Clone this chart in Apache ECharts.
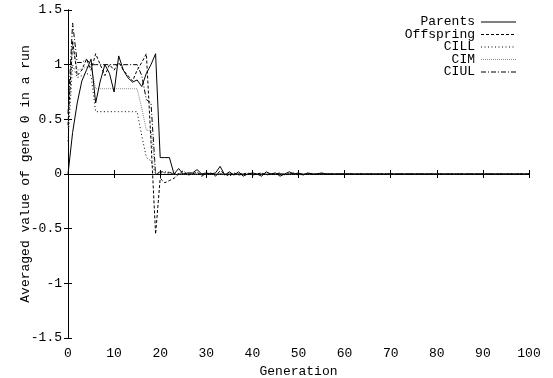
<!DOCTYPE html>
<html>
<head>
<meta charset="utf-8">
<script src="https://cdn.jsdelivr.net/npm/echarts@6/dist/echarts.min.js"></script>
<style>
  html, body { margin: 0; padding: 0; background: #fff; }
  #chart { width: 553px; height: 378px; }
</style>
</head>
<body>
<div id="chart"></div>
<script>
// Averaged value of gene 0 per generation, with confidence interval bounds
const generations = [];
for (let g = 0; g <= 100; g++) generations.push(g);

const parents = [
  0, 0.38, 0.65, 0.85, 0.95, 1.05, 0.65, 0.85, 1.0, 0.92,
  0.75, 1.08, 0.95, 0.88, 0.84, 0.86, 0.8, 0.92, 1.0, 1.1,
  0.15, 0.15, 0.15, 0.0, 0.05, 0.0, 0.01, 0.01, 0.04, 0.0,
  0.01, 0.0, 0.01, 0.07, -0.01, 0.02, -0.01, 0.02, -0.02, 0.0,
  0.01, 0.0, -0.02, 0.02, 0.0, 0.01, -0.02, 0.0, 0.02, 0.0,
  0.01, -0.01, 0.01, 0.0, 0.0, 0.01, 0, 0, 0, 0,
  0, 0, 0, 0, 0, 0, 0, 0, 0, 0,
  0, 0, 0, 0, 0, 0, 0, 0, 0, 0,
  0, 0, 0, 0, 0, 0, 0, 0, 0, 0,
  0, 0, 0, 0, 0, 0, 0, 0, 0, 0,
  0
];

const offspring = [
  0.45, 1.22, 0.9, 0.95, 1.05, 0.95, 1.1, 1.0, 0.9, 1.0,
  0.95, 1.02, 0.95, 0.9, 0.85, 0.95, 1.02, 1.1, 0.3, -0.55,
  -0.04, -0.08, -0.06, -0.04, 0.0, 0.03, -0.01, 0.0, 0.02, -0.02,
  0.0, 0.01, -0.02, 0.03, 0.0, -0.02, 0.01, -0.01, 0.0, 0.01,
  -0.01, 0.0, 0.01, -0.01, 0.0, 0.0, 0.01, -0.01, 0.0, 0.01,
  -0.01, 0.0, 0.0, 0.0, 0, 0, 0, 0, 0, 0,
  0, 0, 0, 0, 0, 0, 0, 0, 0, 0,
  0, 0, 0, 0, 0, 0, 0, 0, 0, 0,
  0, 0, 0, 0, 0, 0, 0, 0, 0, 0,
  0, 0, 0, 0, 0, 0, 0, 0, 0, 0,
  0
];

const cill = [
  0.3, 1.0, 0.88, 0.9, 0.92, 0.9, 0.57, 0.57, 0.57, 0.57,
  0.57, 0.57, 0.57, 0.57, 0.57, 0.57, 0.35, 0.15, 0.12, 0.0,
  0.01, 0.01, 0.0, 0.0, 0, 0, 0, 0, 0, 0,
  0, 0, 0, 0, 0, 0, 0, 0, 0, 0,
  0, 0, 0, 0, 0, 0, 0, 0, 0, 0,
  0, 0, 0, 0, 0, 0, 0, 0, 0, 0,
  0, 0, 0, 0, 0, 0, 0, 0, 0, 0,
  0, 0, 0, 0, 0, 0, 0, 0, 0, 0,
  0, 0, 0, 0, 0, 0, 0, 0, 0, 0,
  0, 0, 0, 0, 0, 0, 0, 0, 0, 0,
  0
];

const cim = [
  0.42, 1.18, 0.95, 0.96, 0.98, 0.98, 0.78, 0.78, 0.78, 0.78,
  0.78, 0.78, 0.78, 0.78, 0.78, 0.78, 0.6, 0.4, 0.4, 0.0,
  0.015, 0.015, 0.01, 0.0, 0, 0, 0, 0, 0, 0,
  0, 0, 0, 0, 0, 0, 0, 0, 0, 0,
  0, 0, 0, 0, 0, 0, 0, 0, 0, 0,
  0, 0, 0, 0, 0, 0, 0, 0, 0, 0,
  0, 0, 0, 0, 0, 0, 0, 0, 0, 0,
  0, 0, 0, 0, 0, 0, 0, 0, 0, 0,
  0, 0, 0, 0, 0, 0, 0, 0, 0, 0,
  0, 0, 0, 0, 0, 0, 0, 0, 0, 0,
  0
];

const ciul = [
  0.55, 1.38, 1.02, 1.02, 1.05, 1.0, 1.0, 1.0, 1.0, 1.0,
  1.0, 1.0, 1.0, 1.0, 1.0, 1.0, 0.9, 0.68, 0.65, 0.0,
  0.02, 0.02, 0.015, 0.0, 0, 0, 0, 0, 0, 0,
  0, 0, 0, 0, 0, 0, 0, 0, 0, 0,
  0, 0, 0, 0, 0, 0, 0, 0, 0, 0,
  0, 0, 0, 0, 0, 0, 0, 0, 0, 0,
  0, 0, 0, 0, 0, 0, 0, 0, 0, 0,
  0, 0, 0, 0, 0, 0, 0, 0, 0, 0,
  0, 0, 0, 0, 0, 0, 0, 0, 0, 0,
  0, 0, 0, 0, 0, 0, 0, 0, 0, 0,
  0
];

const seriesNames = ['Parents', 'Offspring', 'CILL', 'CIM', 'CIUL'];
const seriesValues = [parents, offspring, cill, cim, ciul];
const seriesStyles = [
  { color: '#000', dash: 'solid' },
  { color: '#000', dash: [3, 2] },
  { color: '#000', dash: [1, 2.5] },
  { color: '#888', dash: [1, 1] },
  { color: '#000', dash: [5, 2, 1, 2] }
];

const FONT = 'Liberation Mono, DejaVu Sans Mono, monospace';

const chart = echarts.init(document.getElementById('chart'), null, { renderer: 'canvas' });

const baseX = {
  type: 'value', min: 0, max: 100, interval: 10,
  axisLine: { show: true, lineStyle: { color: '#000', width: 1 } },
  axisTick: { show: true, inside: true, length: 4, lineStyle: { color: '#000' } },
  splitLine: { show: false }
};
const baseY = {
  type: 'value', min: -1.5, max: 1.5, interval: 0.5,
  axisLine: { show: true, lineStyle: { color: '#000', width: 1 } },
  axisTick: { show: true, inside: true, length: 4, lineStyle: { color: '#000' } },
  splitLine: { show: false }
};

const series = seriesNames.map((name, i) => ({
  name: name,
  type: 'line',
  xAxisIndex: 0,
  yAxisIndex: 0,
  showSymbol: false,
  symbol: 'none',
  z: 5 - i,
  data: generations.map((g, k) => [g, seriesValues[i][k]]),
  lineStyle: { color: seriesStyles[i].color, width: 1, type: seriesStyles[i].dash }
}));

// Key in the upper right: label right-aligned, sample line after it
const legendGraphics = [];
const keyRows = [22, 34.5, 47, 59.5, 72];
seriesNames.forEach((name, i) => {
  legendGraphics.push({
    type: 'text',
    x: 475, y: keyRows[i],
    style: { text: name, align: 'right', verticalAlign: 'middle', font: '13px ' + FONT, fill: '#000' }
  });
  legendGraphics.push({
    type: 'line',
    shape: { x1: 481, y1: keyRows[i], x2: 516, y2: keyRows[i] },
    style: {
      stroke: seriesStyles[i].color, lineWidth: 1,
      lineDash: seriesStyles[i].dash === 'solid' ? null : seriesStyles[i].dash
    }
  });
});

chart.setOption({
  animation: false,
  backgroundColor: '#fff',
  grid: { left: 68, right: 24, top: 10, bottom: 40, outerBoundsMode: 'none' },
  xAxis: [
    Object.assign({}, baseX, {
      position: 'bottom',
      name: 'Generation', nameLocation: 'middle', nameGap: 27, nameMoveOverlap: false,
      nameTextStyle: { fontFamily: FONT, fontSize: 13, color: '#000' },
      axisLabel: { show: true, margin: 9, fontFamily: FONT, fontSize: 13, color: '#000' }
    }),
    Object.assign({}, baseX, { position: 'top', axisLabel: { show: false } })
  ],
  yAxis: [
    Object.assign({}, baseY, {
      position: 'left',
      name: 'Averaged value of gene 0 in a run', nameLocation: 'middle', nameGap: 36, nameMoveOverlap: false,
      nameTextStyle: { fontFamily: FONT, fontSize: 13, color: '#000' },
      axisLabel: { show: true, margin: 6, fontFamily: FONT, fontSize: 13, color: '#000' }
    }),
    Object.assign({}, baseY, { position: 'right', axisLabel: { show: false } })
  ],
  series: series,
  graphic: legendGraphics
});
</script>
</body>
</html>
